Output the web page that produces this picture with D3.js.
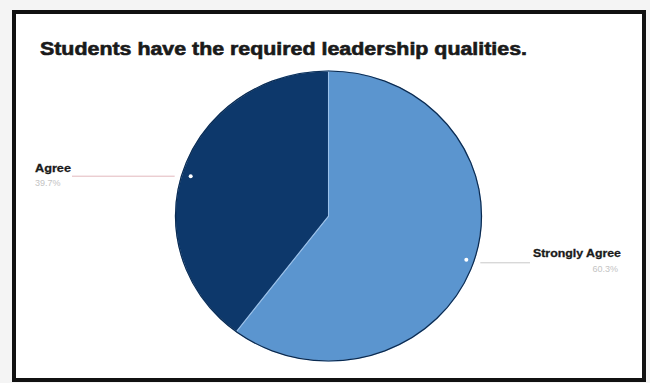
<!DOCTYPE html>
<html>
<head>
<meta charset="utf-8">
<script src="https://cdn.jsdelivr.net/npm/d3@7"></script>
<style>
  html, body { margin: 0; padding: 0; background: #f4f4f4; }
  svg { display: block; }
</style>
</head>
<body>
<svg id="chart" width="650" height="383"></svg>
<script>
const title = "Students have the required leadership qualities.";
const categories = ["Strongly Agree", "Agree"];
const values = [60.3, 39.7];
const valueLabels = ["60.3%", "39.7%"];
const colors = ["#5b95cf", "#0d386b"];

const svg = d3.select("#chart");

// frame
svg.append("rect")
  .attr("x", 14).attr("y", 12).attr("width", 630).attr("height", 368)
  .attr("fill", "#ffffff").attr("stroke", "#111").attr("stroke-width", 4);

svg.append("text")
  .attr("x", 40).attr("y", 55)
  .attr("font-family", "Liberation Sans, Arial, sans-serif")
  .attr("font-weight", "bold")
  .attr("font-size", 18)
  .attr("fill", "#1a1a1a")
  .attr("stroke", "#1a1a1a").attr("stroke-width", 0.6)
  .attr("textLength", 487)
  .attr("lengthAdjust", "spacingAndGlyphs")
  .text(title);

const cx = 328.5, cy = 216, R = 145, sx = 153 / 145;
const data = categories.map((c, i) => ({ cat: c, value: values[i], label: valueLabels[i], color: colors[i] }));
const pie = d3.pie().sort(null).value(d => d.value);
const arcs = pie(data);
const arc = d3.arc().innerRadius(0).outerRadius(R);

const g = svg.append("g").attr("transform", `translate(${cx},${cy}) scale(${sx},1)`);
g.selectAll("path").data(arcs).join("path")
  .attr("d", arc)
  .attr("fill", d => d.data.color)
  .attr("stroke", "#9cc2ea")
  .attr("stroke-width", 1);
g.append("circle").attr("r", R).attr("fill", "none").attr("stroke", "#0a2a50").attr("stroke-width", 1.2);

// label anchors
const anchor = d => {
  const a = (d.startAngle + d.endAngle) / 2;
  return [cx + 0.95 * R * sx * Math.sin(a), cy - 0.95 * R * Math.cos(a) + (Math.sin(a) < 0 ? 4 : 0)];
};

arcs.forEach(d => {
  const [ax, ay] = anchor(d);
  const left = ax < cx;
  svg.append("circle").attr("cx", ax).attr("cy", ay).attr("r", 2).attr("fill", "#ffffff");
  const lineEnd = left ? 72 : 530;
  const ly = ay + (left ? 0 : 3);
  svg.append("line")
    .attr("x1", left ? ax - 16 : ax + 14).attr("y1", ly)
    .attr("x2", lineEnd).attr("y2", ly)
    .attr("stroke", left ? "#e3b9bd" : "#c8c8c8").attr("stroke-width", 1);
  svg.append("text")
    .attr("x", left ? 35 : 621).attr("y", left ? 172 : 257)
    .attr("text-anchor", left ? "start" : "end")
    .attr("font-family", "Liberation Sans, Arial, sans-serif")
    .attr("font-weight", "bold").attr("font-size", 11)
    .attr("fill", "#1a1a1a")
    .attr("stroke", "#1a1a1a").attr("stroke-width", 0.3)
    .attr("textLength", left ? 36 : 88)
    .attr("lengthAdjust", "spacingAndGlyphs")
    .text(d.data.cat);
  svg.append("text")
    .attr("x", left ? 35 : 618).attr("y", left ? 186 : 272)
    .attr("text-anchor", left ? "start" : "end")
    .attr("font-family", "Liberation Sans, Arial, sans-serif")
    .attr("font-size", 9)
    .attr("fill", "#c4c4c4")
    .text(d.data.label);
});
</script>
</body>
</html>
